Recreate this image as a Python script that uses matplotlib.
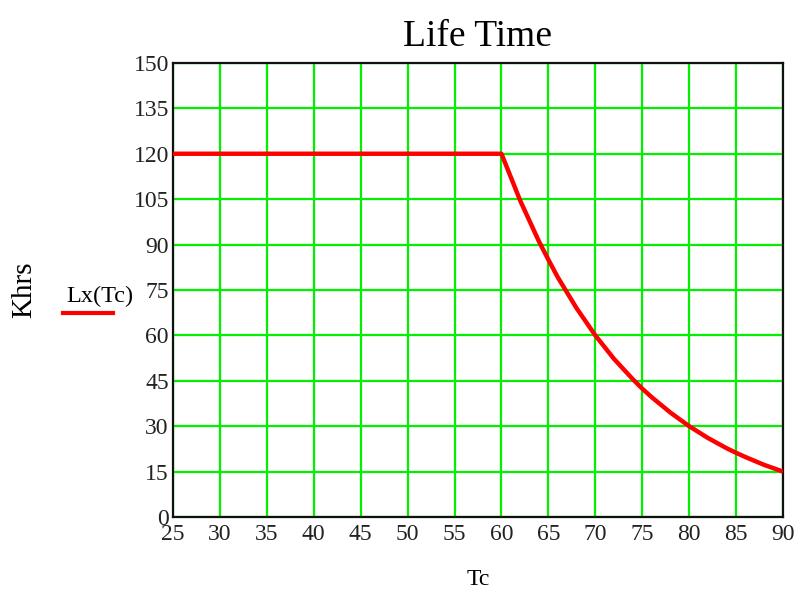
#!/usr/bin/env python3
"""Life time curve Lx(Tc) in Mathcad style."""

import matplotlib
matplotlib.use("Agg")
import matplotlib.pyplot as plt
from matplotlib.lines import Line2D

# Values
tc = [25, 60, 62, 64, 65, 66, 68, 70, 72, 74, 75, 76, 78, 80, 82, 84, 85, 86, 88, 90]
khrs = [120, 120, 104.5, 91, 85, 79.2, 69, 60, 52.2, 45.5, 42.4, 39.6, 34.5,
        30, 26.1, 22.7, 21.2, 19.8, 17.2, 15]

x_ticks = list(range(25, 91, 5))
y_ticks = list(range(0, 151, 15))

plt.rcParams["font.family"] = ["Liberation Serif", "DejaVu Serif"]

def main():
    fig = plt.figure(figsize=(8.03, 5.92), dpi=100)
    ax = fig.add_axes([0.2154, 0.1267, 0.7597, 0.767])

    ax.plot(tc, khrs, color="#ff0000", lw=3.2, solid_capstyle="butt", zorder=3)

    ax.set_xlim(25, 90)
    ax.set_ylim(0, 150)
    ax.set_xticks(x_ticks)
    ax.set_yticks(y_ticks)
    ax.grid(True, color="#00f000", lw=1.6)
    ax.set_axisbelow(True)
    ax.tick_params(length=0, labelsize=17, colors="#222222")
    ax.tick_params(axis="x", pad=5)
    ax.tick_params(axis="y", pad=3)
    for s in ax.spines.values():
        s.set_linewidth(1.6)
        s.set_color("#111111")

    ax.set_title("Life Time", fontsize=27, pad=12)
    ax.set_xlabel("Tc", fontsize=17, labelpad=17)
    ax.set_ylabel("Khrs", fontsize=21, labelpad=0)
    ax.yaxis.set_label_coords(-0.222, 0.5)

    # legend entry: name above a short line sample
    fig.text(0.124, 0.5, "Lx(Tc)", fontsize=17.5, ha="center", va="center")
    fig.add_artist(Line2D([0.078, 0.141], [0.471, 0.471], color="#ff0000", lw=3,
                          transform=fig.transFigure))

    fig.savefig("out.png", dpi=100)

if __name__ == "__main__":
    main()
